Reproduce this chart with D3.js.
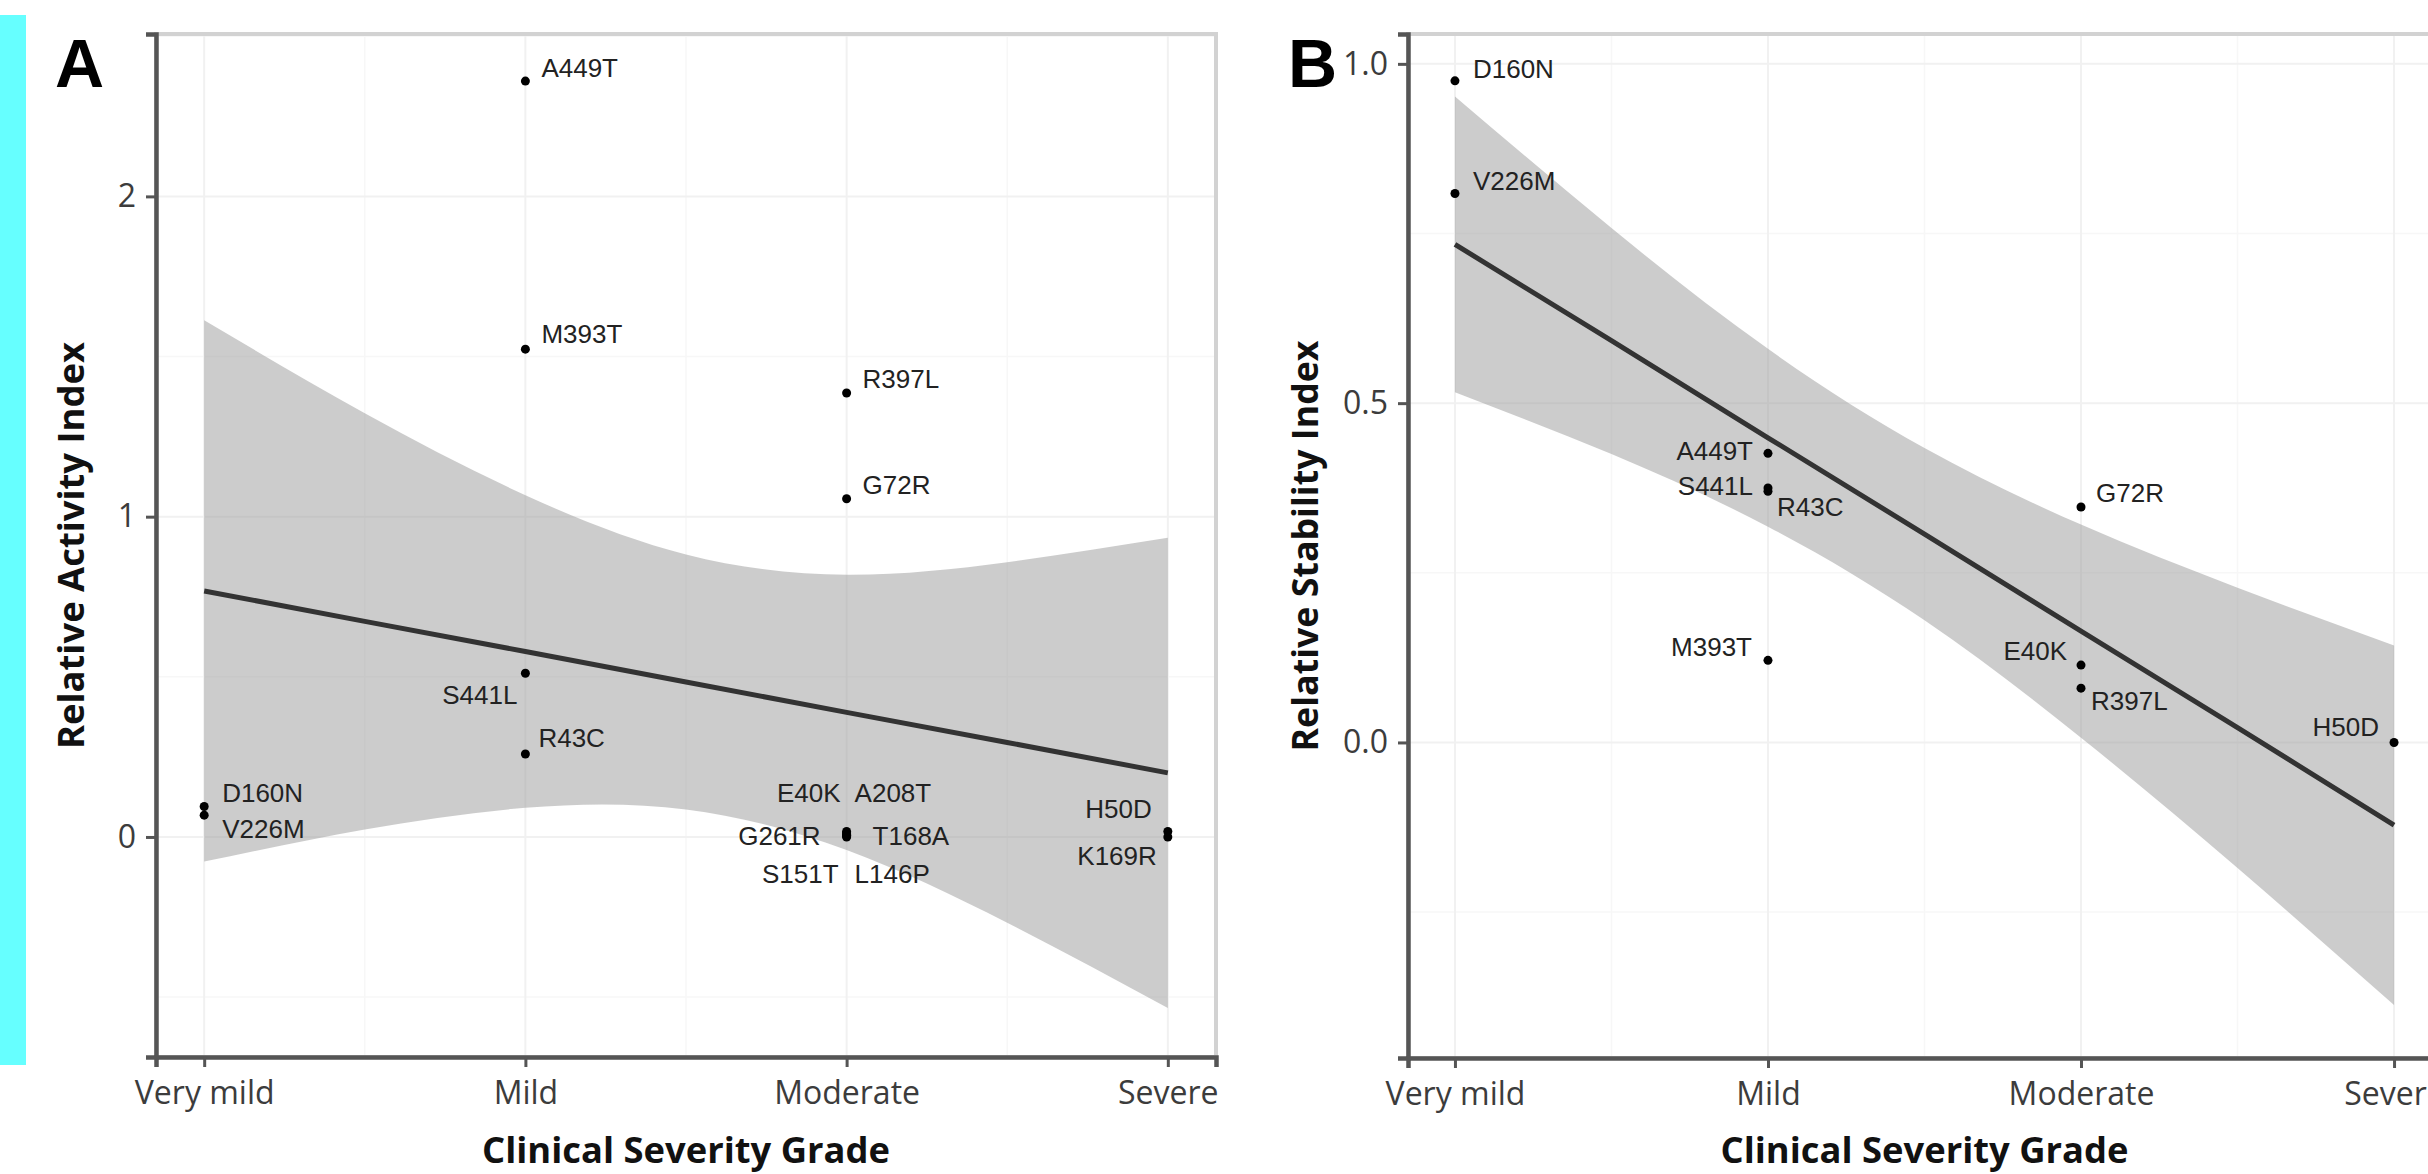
<!DOCTYPE html>
<html lang="en">
<head>
    <meta charset="UTF-8">
    <title>Clinical severity vs activity / stability</title>
    <script src="https://d3js.org/d3.v7.min.js"></script>
    <style>
        body { margin: 0; background: #fff; }
    </style>
</head>
<body>
    <svg id="chart" width="2428" height="1174"></svg>

    <script>
        // categories on the x axis (positions 1..4)
        const grades = ["Very mild", "Mild", "Moderate", "Severe"];

        // panel A : relative activity index
        const activityNames = ["D160N", "V226M", "A449T", "M393T", "S441L", "R43C",
            "R397L", "G72R", "E40K", "A208T", "G261R", "T168A", "S151T", "L146P",
            "H50D", "K169R"];
        const activityGrade = [1, 1, 2, 2, 2, 2, 3, 3, 3, 3, 3, 3, 3, 3, 4, 4];
        const activityValues = [0.095, 0.068, 2.36, 1.523, 0.511, 0.259,
            1.386, 1.056, 0.017, 0.012, 0.005, 0.008, 0.0, 0.003,
            0.017, 0.0];
        const activityTicks = [0, 1, 2];

        // panel B : relative stability index
        const stabilityNames = ["D160N", "V226M", "A449T", "S441L", "R43C", "M393T",
            "G72R", "E40K", "R397L", "H50D"];
        const stabilityGrade = [1, 1, 2, 2, 2, 2, 3, 3, 3, 4];
        const stabilityValues = [0.975, 0.809, 0.426, 0.375, 0.37, 0.121,
            0.347, 0.114, 0.08, 0.0];
        const stabilityTicks = [0.0, 0.5, 1.0];

        // fitted line and confidence band, read at these x positions
        const fitX = [1, 1.5, 2, 2.5, 3, 3.5, 4];
        const activityFit = [0.768, 0.673, 0.579, 0.484, 0.389, 0.295, 0.200];
        const activityLow = [-0.077, 0.023, 0.091, 0.086, -0.041, -0.268, -0.534];
        const activityHigh = [1.613, 1.323, 1.067, 0.882, 0.819, 0.858, 0.934];
        const stabilityFit = [0.734, 0.592, 0.449, 0.307, 0.164, 0.022, -0.122];
        const stabilityLow = [0.516, 0.425, 0.318, 0.180, 0.007, -0.185, -0.387];
        const stabilityHigh = [0.952, 0.758, 0.580, 0.434, 0.321, 0.228, 0.143];

        // label placement: [dx, dy, anchor] in pixels from the point
        const activityLabelPos = {
            D160N: [18, -5, "start"], V226M: [18, 23, "start"],
            A449T: [16, -4, "start"], M393T: [16, -6, "start"],
            S441L: [-8, 31, "end"], R43C: [13, -7, "start"],
            R397L: [16, -5, "start"], G72R: [16, -5, "start"],
            E40K: [-6, -30, "end"], A208T: [8, -31, "start"],
            G261R: [-26, 10, "end"], T168A: [26, 11, "start"],
            S151T: [-8, 46, "end"], L146P: [8, 47, "start"],
            H50D: [-16, -14, "end"], K169R: [-11, 28, "end"]
        };
        const stabilityLabelPos = {
            D160N: [18, -3, "start"], V226M: [18, -3, "start"],
            A449T: [-15, 7, "end"], S441L: [-15, 7, "end"],
            R43C: [9, 25, "start"], M393T: [-16, -4, "end"],
            G72R: [15, -5, "start"], E40K: [-14, -5, "end"],
            R397L: [10, 22, "start"], H50D: [-15, -6, "end"]
        };

        const svg = d3.select("#chart");
        const W = +svg.attr("width");
        const H = +svg.attr("height");

        svg.append("rect").attr("width", W).attr("height", H).attr("fill", "#fff");

        // cyan strip on the left edge
        svg.append("rect")
            .attr("x", 0).attr("y", 15)
            .attr("width", 26).attr("height", 1050)
            .attr("fill", "#66ffff");

        const tickFont = "'Open Sans', 'DejaVu Sans', sans-serif";
        const titleFont = "'Open Sans', 'DejaVu Sans', sans-serif";
        const labelFont = "'Liberation Sans', Arial, sans-serif";

        function drawPanel(p) {
            const x = d3.scaleLinear().domain([0.85, 4.15]).range([p.left, p.right]);
            const y = d3.scaleLinear().domain(p.yDomain).range([p.bottom, p.top]);
            const g = svg.append("g");

            // grid: minor then major (very faint)
            const grid = g.append("g");
            grid.selectAll(".vminor").data([1.5, 2.5, 3.5]).join("line")
                .attr("x1", d => x(d)).attr("x2", d => x(d))
                .attr("y1", p.top).attr("y2", p.bottom)
                .attr("stroke", "#f7f7f7").attr("stroke-width", 1.5);
            grid.selectAll(".hminor").data(p.minorTicks).join("line")
                .attr("x1", p.left).attr("x2", p.right)
                .attr("y1", d => y(d)).attr("y2", d => y(d))
                .attr("stroke", "#f7f7f7").attr("stroke-width", 1.5);
            grid.selectAll(".vmajor").data([1, 2, 3, 4]).join("line")
                .attr("x1", d => x(d)).attr("x2", d => x(d))
                .attr("y1", p.top).attr("y2", p.bottom)
                .attr("stroke", "#f1f1f1").attr("stroke-width", 2);
            grid.selectAll(".hmajor").data(p.ticks).join("line")
                .attr("x1", p.left).attr("x2", p.right)
                .attr("y1", d => y(d)).attr("y2", d => y(d))
                .attr("stroke", "#f1f1f1").attr("stroke-width", 2);

            // confidence band
            const band = d3.area()
                .x((d, i) => x(fitX[i]))
                .y0((d, i) => y(p.low[i]))
                .y1((d, i) => y(p.high[i]))
                .curve(d3.curveNatural);
            g.append("path")
                .datum(fitX)
                .attr("d", band)
                .attr("fill", "#999999")
                .attr("fill-opacity", 0.5);

            // fitted line
            const line = d3.line()
                .x((d, i) => x(fitX[i]))
                .y(d => y(d));
            g.append("path")
                .datum(p.fit)
                .attr("d", line)
                .attr("fill", "none")
                .attr("stroke", "#333333")
                .attr("stroke-width", 5);

            // points
            g.selectAll(".pt").data(p.names).join("circle")
                .attr("cx", (d, i) => x(p.grade[i]))
                .attr("cy", (d, i) => y(p.values[i]))
                .attr("r", 4.5)
                .attr("fill", "#000");

            // labels
            g.selectAll(".lab").data(p.names).join("text")
                .attr("x", (d, i) => x(p.grade[i]) + p.labelPos[d][0])
                .attr("y", (d, i) => y(p.values[i]) + p.labelPos[d][1])
                .attr("text-anchor", d => p.labelPos[d][2])
                .attr("font-family", labelFont)
                .attr("font-size", 26)
                .attr("fill", "#222")
                .text(d => d);

            // panel border (top / right)
            g.append("rect")
                .attr("x", p.left).attr("y", p.top)
                .attr("width", p.right - p.left).attr("height", p.bottom - p.top)
                .attr("fill", "none")
                .attr("stroke", "#d2d2d2")
                .attr("stroke-width", 4);

            // axes
            const xAxis = g.append("g")
                .attr("transform", `translate(0,${p.bottom})`)
                .call(d3.axisBottom(x).tickValues([1, 2, 3, 4])
                    .tickFormat(d => grades[d - 1]).tickSizeOuter(0).tickSize(10).tickPadding(14));
            const yAxis = g.append("g")
                .attr("transform", `translate(${p.left},0)`)
                .call(d3.axisLeft(y).tickValues(p.ticks)
                    .tickFormat(p.tickFormat).tickSizeOuter(0).tickSize(10).tickPadding(10));

            [xAxis, yAxis].forEach(ax => {
                ax.select(".domain").attr("stroke", "#555").attr("stroke-width", 4.5);
                ax.selectAll(".tick line").attr("stroke", "#555").attr("stroke-width", 3);
                ax.selectAll(".tick text")
                    .attr("font-family", tickFont)
                    .attr("font-size", 32)
                    .attr("fill", "#3c3c3c");
            });
            xAxis.selectAll(".tick text").attr("dy", "0.71em");

            // axis titles
            g.append("text")
                .attr("x", (p.left + p.right) / 2)
                .attr("y", 1163)
                .attr("text-anchor", "middle")
                .attr("font-family", titleFont)
                .attr("font-weight", "bold")
                .attr("font-size", 36)
                .attr("textLength", 408)
                .attr("lengthAdjust", "spacingAndGlyphs")
                .attr("fill", "#111")
                .text("Clinical Severity Grade");

            g.append("text")
                .attr("transform", `translate(${p.yTitleX},${(p.top + p.bottom) / 2}) rotate(-90)`)
                .attr("text-anchor", "middle")
                .attr("font-family", titleFont)
                .attr("font-weight", "bold")
                .attr("font-size", 36)
                .attr("textLength", p.yTitleLen)
                .attr("lengthAdjust", "spacingAndGlyphs")
                .attr("fill", "#111")
                .text(p.yTitle);

            // panel letter
            g.append("text")
                .attr("x", p.letterX).attr("y", 87)
                .attr("font-family", labelFont)
                .attr("font-weight", "bold")
                .attr("font-size", 68)
                .attr("fill", "#000")
                .text(p.letter);
        }

        drawPanel({
            letter: "A", letterX: 55,
            left: 156, right: 1216, top: 34, bottom: 1057,
            yDomain: [-0.687, 2.507],
            ticks: activityTicks, minorTicks: [-0.5, 0.5, 1.5, 2.5],
            tickFormat: d3.format("d"),
            names: activityNames, grade: activityGrade, values: activityValues,
            fit: activityFit, low: activityLow, high: activityHigh,
            labelPos: activityLabelPos,
            yTitle: "Relative Activity Index", yTitleX: 84, yTitleLen: 407
        });

        drawPanel({
            letter: "B", letterX: 1288,
            left: 1408, right: 2441, top: 34, bottom: 1058,
            yDomain: [-0.465, 1.044],
            ticks: stabilityTicks, minorTicks: [-0.25, 0.25, 0.75],
            tickFormat: d3.format(".1f"),
            names: stabilityNames, grade: stabilityGrade, values: stabilityValues,
            fit: stabilityFit, low: stabilityLow, high: stabilityHigh,
            labelPos: stabilityLabelPos,
            yTitle: "Relative Stability Index", yTitleX: 1318, yTitleLen: 411
        });
    </script>
</body>
</html>
